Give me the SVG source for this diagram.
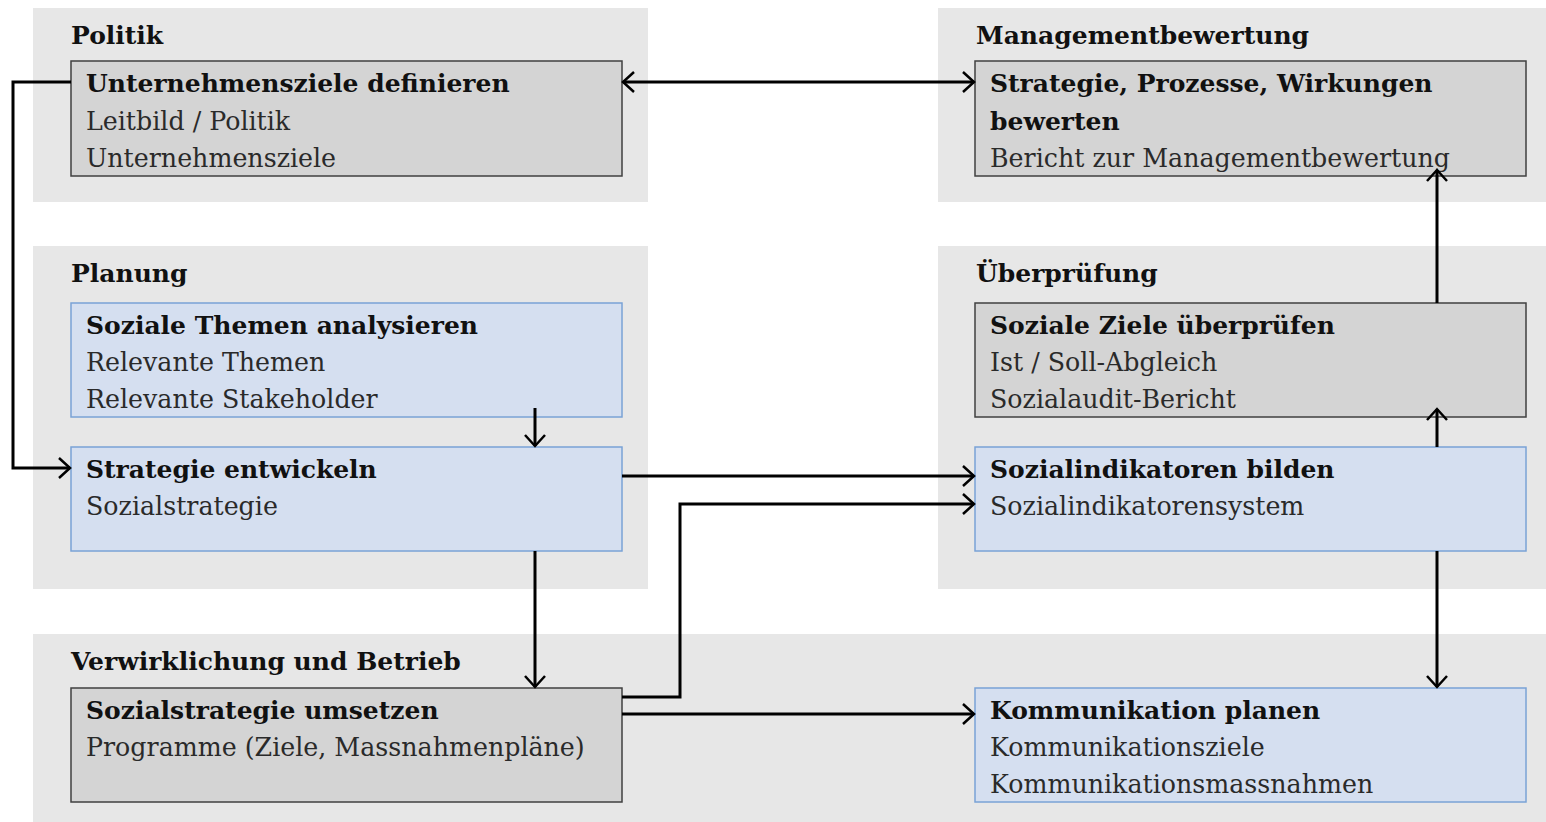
<svg xmlns="http://www.w3.org/2000/svg" width="1546" height="822" viewBox="0 0 1546 822">
<defs>
<marker id="ah" markerUnits="userSpaceOnUse" markerWidth="16" markerHeight="24" viewBox="0 0 16 24" refX="13" refY="12" orient="auto-start-reverse">
<path d="M2,2 L13,12 L2,22" fill="none" stroke="#000" stroke-width="2.5"/>
</marker>
<style>
.panel{fill:#e7e7e7}
.gbox{fill:#d4d4d4;stroke:#404040;stroke-width:1.5}
.bbox{fill:#d5dff0;stroke:#7aa3d6;stroke-width:1.5}
text{font-family:"DejaVu Serif","Liberation Serif",serif;font-size:25.3px;fill:#2a2a2a}
.h{font-weight:bold;font-size:25px;fill:#111}
.c{fill:none;stroke:#000;stroke-width:3}
</style>
</defs>
<rect width="1546" height="822" fill="#fff"/>
<g id="panels">
<rect class="panel" x="33" y="8" width="615" height="194"/>
<rect class="panel" x="938" y="8" width="608" height="194"/>
<rect class="panel" x="33" y="246" width="615" height="343"/>
<rect class="panel" x="938" y="246" width="608" height="343"/>
<rect class="panel" x="33" y="634" width="1513" height="188"/>
<text class="h" x="71" y="44">Politik</text>
<text class="h" x="976" y="44">Managementbewertung</text>
<text class="h" x="71" y="282">Planung</text>
<text class="h" x="976" y="282">Überprüfung</text>
<text class="h" x="71" y="670">Verwirklichung und Betrieb</text>
</g>
<g id="n-ziele">
<rect class="gbox" x="71" y="61" width="551" height="115"/>
<text class="h" x="86" y="92">Unternehmensziele definieren</text>
<text x="86" y="130">Leitbild / Politik</text>
<text x="86" y="167">Unternehmensziele</text>
</g>
<g id="n-mgmt">
<rect class="gbox" x="975" y="61" width="551" height="115"/>
<text class="h" x="990" y="92">Strategie, Prozesse, Wirkungen</text>
<text class="h" x="990" y="130">bewerten</text>
<text x="990" y="167">Bericht zur Managementbewertung</text>
</g>
<g id="n-themen">
<rect class="bbox" x="71" y="303" width="551" height="114"/>
<text class="h" x="86" y="334">Soziale Themen analysieren</text>
<text x="86" y="371">Relevante Themen</text>
<text x="86" y="408">Relevante Stakeholder</text>
</g>
<g id="n-strategie">
<rect class="bbox" x="71" y="447" width="551" height="104"/>
<text class="h" x="86" y="478">Strategie entwickeln</text>
<text x="86" y="515">Sozialstrategie</text>
</g>
<g id="n-pruefen">
<rect class="gbox" x="975" y="303" width="551" height="114"/>
<text class="h" x="990" y="334">Soziale Ziele überprüfen</text>
<text x="990" y="371">Ist / Soll-Abgleich</text>
<text x="990" y="408">Sozialaudit-Bericht</text>
</g>
<g id="n-indikatoren">
<rect class="bbox" x="975" y="447" width="551" height="104"/>
<text class="h" x="990" y="478">Sozialindikatoren bilden</text>
<text x="990" y="515">Sozialindikatorensystem</text>
</g>
<g id="n-umsetzen">
<rect class="gbox" x="71" y="688" width="551" height="114"/>
<text class="h" x="86" y="719">Sozialstrategie umsetzen</text>
<text x="86" y="756">Programme (Ziele, Massnahmenpläne)</text>
</g>
<g id="n-komm">
<rect class="bbox" x="975" y="688" width="551" height="114"/>
<text class="h" x="990" y="719">Kommunikation planen</text>
<text x="990" y="756">Kommunikationsziele</text>
<text x="990" y="793">Kommunikationsmassnahmen</text>
</g>
<g id="connectors">
<path class="c" d="M71,82 H13 V468 H70" marker-end="url(#ah)"/>
<path class="c" d="M623,82 H974" marker-start="url(#ah)" marker-end="url(#ah)"/>
<path class="c" d="M535,408 V446" marker-end="url(#ah)"/>
<path class="c" d="M622,476 H974" marker-end="url(#ah)"/>
<path class="c" d="M535,551 V687" marker-end="url(#ah)"/>
<path class="c" d="M622,697 H680 V504 H974" marker-end="url(#ah)"/>
<path class="c" d="M622,714 H974" marker-end="url(#ah)"/>
<path class="c" d="M1437,447 V409" marker-end="url(#ah)"/>
<path class="c" d="M1437,303 V170" marker-end="url(#ah)"/>
<path class="c" d="M1437,551 V687" marker-end="url(#ah)"/>
</g>
</svg>
